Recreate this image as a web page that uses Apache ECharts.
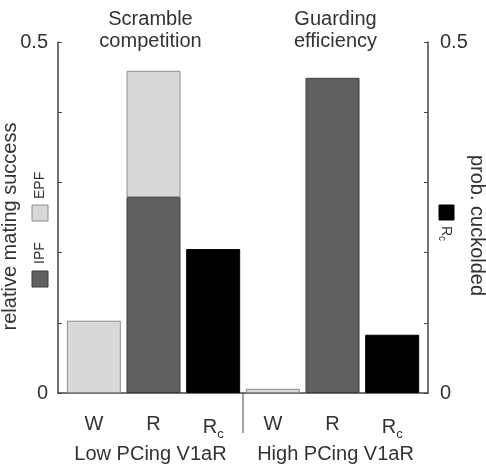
<!DOCTYPE html>
<html>
<head>
<meta charset="utf-8">
<script src="https://cdn.jsdelivr.net/npm/echarts@6/dist/echarts.min.js"></script>
<style>html,body{margin:0;padding:0;background:#fff}#c{width:486px;height:466px}</style>
</head>
<body>
<div id="c"></div>
<script>
// ---- data ----
var categories = ['W', 'R', 'Rc', 'W', 'R', 'Rc'];
var groupLabels = ['Low PCing V1aR', 'High PCing V1aR'];
var titleLabels = ['Scramble\ncompetition', 'Guarding\nefficiency'];
var ipf = ['-', 0.279, '-', '-', 0.449, '-'];
var epf = [0.103, 0.180, '-', 0.006, '-', '-'];
var cuckolded = ['-', '-', 0.205, '-', '-', 0.083];
var yTickLabels = ['0', '0.5'];

var FONT = "'Liberation Sans', Arial, sans-serif";
var TXT = '#333';
var AX = '#444';
var FS = 20;

var chart = echarts.init(document.getElementById('c'), null, {renderer: 'canvas'});

function catLabel(v) {
  return v === 'Rc' ? 'R{sub|c}' : v;
}
function yLabel(v) {
  if (Math.abs(v) < 1e-9) return yTickLabels[0];
  if (Math.abs(v - 0.5) < 1e-9) return yTickLabels[1];
  return '';
}

var option = {
  animation: false,
  backgroundColor: '#fff',
  textStyle: {fontFamily: FONT},
  grid: [
    {left: 58, right: 58, top: 42, bottom: 73, containLabel: false, outerBoundsMode: 'none'},
    {left: 64, right: 64, top: 42, bottom: 73, containLabel: false, outerBoundsMode: 'none'}
  ],
  xAxis: [
    { // group labels + baseline
      type: 'category', gridIndex: 0, position: 'bottom', data: groupLabels,
      axisLine: {show: true, lineStyle: {color: AX, width: 1.5}},
      axisTick: {show: false},
      axisLabel: {interval: 0, margin: 51, fontSize: FS, color: TXT, fontFamily: FONT},
      splitLine: {show: false}
    },
    { // titles at top
      type: 'category', gridIndex: 0, position: 'top', data: titleLabels,
      axisLine: {show: false}, axisTick: {show: false},
      axisLabel: {interval: 0, margin: -10, fontSize: FS, lineHeight: 22, color: TXT, fontFamily: FONT}
    },
    { // bar categories
      type: 'category', gridIndex: 1, position: 'bottom', data: categories,
      axisLine: {show: false}, axisTick: {show: false},
      axisLabel: {
        interval: 0, margin: 21, fontSize: FS, color: TXT, fontFamily: FONT,
        formatter: catLabel,
        rich: {sub: {fontSize: 13, color: TXT, fontFamily: FONT, padding: [14, 0, 0, 0]}}
      }
    }
  ],
  yAxis: [
    {
      type: 'value', gridIndex: 0, position: 'left', min: 0, max: 0.5, interval: 0.1,
      name: 'relative mating success', nameLocation: 'middle', nameGap: 38, nameRotate: 90,
      nameMoveOverlap: false,
      nameTextStyle: {fontSize: FS, color: TXT, fontFamily: FONT, padding: [0, 18, 0, 0]},
      axisLine: {show: true, lineStyle: {color: AX, width: 1.5}},
      axisTick: {show: true, inside: true, length: 4, lineStyle: {color: AX}},
      axisLabel: {margin: 10, fontSize: FS, color: TXT, fontFamily: FONT, formatter: yLabel},
      splitLine: {show: false}
    },
    {
      type: 'value', gridIndex: 0, position: 'right', min: 0, max: 0.5, interval: 0.1,
      name: 'prob. cuckolded', nameLocation: 'middle', nameGap: 39, nameRotate: -90,
      nameMoveOverlap: false,
      nameTextStyle: {fontSize: FS, color: TXT, fontFamily: FONT, padding: [0, 0, 0, 16]},
      axisLine: {show: true, lineStyle: {color: AX, width: 1.5}},
      axisTick: {show: true, inside: true, length: 4, lineStyle: {color: AX}},
      axisLabel: {margin: 12, fontSize: FS, color: TXT, fontFamily: FONT, formatter: yLabel},
      splitLine: {show: false}
    },
    {type: 'value', gridIndex: 1, min: 0, max: 0.5, show: false},
    {type: 'value', gridIndex: 1, min: 0, max: 0.5, show: false, position: 'right'}
  ],
  series: [
    {
      name: 'IPF', type: 'bar', xAxisIndex: 2, yAxisIndex: 2, stack: 'mating',
      data: ipf, barWidth: 54, barGap: '-100%',
      itemStyle: {color: '#606060', borderColor: '#3c3c3c', borderWidth: 1}
    },
    {
      name: 'EPF', type: 'bar', xAxisIndex: 2, yAxisIndex: 2, stack: 'mating',
      data: epf, barWidth: 54, barGap: '-100%',
      itemStyle: {color: '#d8d8d8', borderColor: '#8c8c8c', borderWidth: 1}
    },
    {
      name: 'Rc', type: 'bar', xAxisIndex: 2, yAxisIndex: 3,
      data: cuckolded, barWidth: 54, barGap: '-100%',
      itemStyle: {color: '#000', borderColor: '#000', borderWidth: 1}
    }
  ],
  graphic: [
    { // left legend, rotated to read upward
      id: 'legL', type: 'group', x: 40, y: 287, rotation: Math.PI / 2,
      children: [
        {type: 'rect', shape: {x: 0, y: -8, width: 16, height: 16},
          style: {fill: '#606060', stroke: '#3c3c3c', lineWidth: 1}},
        {type: 'text', x: 23, y: 0, style: {text: 'IPF', fontSize: 14, fontFamily: FONT,
          fill: TXT, verticalAlign: 'middle', align: 'left'}},
        {type: 'rect', shape: {x: 66, y: -8, width: 16, height: 16},
          style: {fill: '#d8d8d8', stroke: '#8c8c8c', lineWidth: 1}},
        {type: 'text', x: 88, y: 0, style: {text: 'EPF', fontSize: 14, fontFamily: FONT,
          fill: TXT, verticalAlign: 'middle', align: 'left'}}
      ]
    },
    { // right legend, rotated to read downward
      id: 'legR', type: 'group', x: 446, y: 205, rotation: -Math.PI / 2,
      children: [
        {type: 'rect', shape: {x: 0, y: -8, width: 15, height: 15},
          style: {fill: '#000', stroke: '#000', lineWidth: 1}},
        {type: 'text', x: 21, y: 0, style: {
          rich: {sub: {fontSize: 10, padding: [8, 0, 0, 0], fill: TXT, fontFamily: FONT}},
          text: 'R{sub|c}', fontSize: 14, fontFamily: FONT,
          fill: TXT, verticalAlign: 'middle', align: 'left'}}
      ]
    }
  ]
};
chart.setOption(option);

// group separator: boundary between the two category groups, derived from the axis scale
var cLeft = chart.convertToPixel({xAxisIndex: 0}, 0);
var cRight = chart.convertToPixel({xAxisIndex: 0}, 1);
var sepX = (cLeft + cRight) / 2;
var baseY = chart.convertToPixel({yAxisIndex: 0}, 0);
chart.setOption({
  graphic: {elements: [{
    id: 'sep', type: 'line',
    shape: {x1: sepX, y1: baseY, x2: sepX, y2: baseY + 40},
    style: {stroke: AX, lineWidth: 1}
  }]}
});
</script>
</body>
</html>
